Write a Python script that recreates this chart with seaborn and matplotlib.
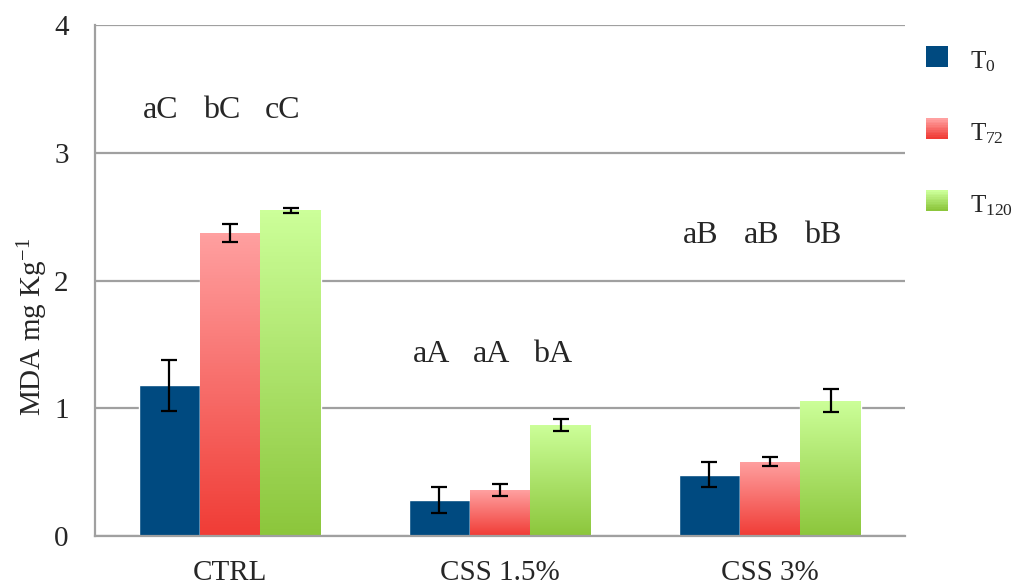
import numpy as np
import pandas as pd
import matplotlib
matplotlib.use("Agg")
import matplotlib.pyplot as plt
from matplotlib.patches import Patch, Rectangle
from matplotlib.legend_handler import HandlerBase
import seaborn as sns

# data
groups = ["CTRL", "CSS 1.5%", "CSS 3%"]
times = ["T0", "T72", "T120"]
t0 = [1.18, 0.28, 0.48]
t72 = [2.37, 0.36, 0.58]
t120 = [2.55, 0.87, 1.06]
t0_err = [0.20, 0.10, 0.10]
t72_err = [0.07, 0.045, 0.035]
t120_err = [0.02, 0.045, 0.09]
letters = [["aC", "bC", "cC"], ["aA", "aA", "bA"], ["aB", "aB", "bB"]]
letter_y = [3.33, 1.42, 2.35]

df = pd.DataFrame({
    "group": groups * 3,
    "time": [t for t in times for _ in groups],
    "mda": t0 + t72 + t120,
})
errs = [t0_err, t72_err, t120_err]

base_cols = {"T0": "#004a80", "T72": "#f7706b", "T120": "#b0e070"}
grads = {"T72": ("#ffa0a0", "#f03c36"), "T120": ("#ccff99", "#8cc63c")}

sns.set_style("white")
plt.rcParams["font.family"] = ["Liberation Serif", "DejaVu Serif"]
plt.rcParams["mathtext.fontset"] = "custom"
plt.rcParams["mathtext.rm"] = "Liberation Serif"
plt.rcParams["mathtext.it"] = "Liberation Serif"

fs = 21

fig = plt.figure(figsize=(10.18, 5.88), dpi=100)
ax = fig.add_axes([0.0933, 0.0884, 0.7957, 0.8691])

sns.barplot(data=df, x="group", y="mda", hue="time", order=groups,
            hue_order=times, palette=base_cols, width=0.675, errorbar=None,
            saturation=1, legend=False, ax=ax, zorder=2)


def vgrad(c_top, c_bot, n=100):
    a = np.array(matplotlib.colors.to_rgb(c_top))
    b = np.array(matplotlib.colors.to_rgb(c_bot))
    t = np.linspace(0, 1, n)[:, None]
    return (a * (1 - t) + b * t)[:, None, :]


for t, cont, err in zip(times, ax.containers, errs):
    xs = [p.get_x() + p.get_width() / 2 for p in cont.patches]
    hs = [p.get_height() for p in cont.patches]
    if t in grads:
        for p in cont.patches:
            x0, w, h = p.get_x(), p.get_width(), p.get_height()
            im = ax.imshow(vgrad(*grads[t]), extent=[x0, x0 + w, 0, h],
                           origin="upper", aspect="auto", zorder=2.5)
            im.set_clip_path(p)
    ax.errorbar(xs, hs, yerr=err, fmt="none", ecolor="black", elinewidth=1.6,
                capsize=6, capthick=1.6, zorder=4)

# significance letters above each group
for gi, labs in enumerate(letters):
    for ti, lab in enumerate(labs):
        p = ax.containers[ti].patches[gi]
        ax.text(p.get_x() + p.get_width() / 2 - 0.03, letter_y[gi], lab,
                ha="center", va="center", fontsize=fs + 2)

gc = "#a0a0a0"
ax.set_xlim(-0.5, 2.5)
ax.set_ylim(0, 4)
ax.set_yticks([0, 1, 2, 3, 4])
ax.yaxis.grid(True, color=gc, lw=1.6)
ax.set_axisbelow(True)
ax.set_xticks([-0.5, 0.5, 1.5, 2.5])
ax.set_xticklabels([])
ax.set_xticks([0, 1, 2], minor=True)
ax.set_xticklabels(groups, minor=True, fontsize=fs)
ax.tick_params(axis="x", which="minor", length=0, pad=17)
ax.tick_params(axis="both", which="major", direction="out", length=7,
               width=1.6, color=gc, labelsize=fs)
ax.tick_params(axis="y", pad=12)
ax.set_xlabel("")
ax.set_ylabel("MDA mg Kg$^{-1}$", fontsize=fs)
ax.yaxis.set_label_coords(-0.056, 0.41)
for s in ["top", "right"]:
    ax.spines[s].set_visible(False)
for s in ["left", "bottom"]:
    ax.spines[s].set_color(gc)
    ax.spines[s].set_linewidth(1.6)


class GradHandler(HandlerBase):
    def __init__(self, cols):
        super().__init__()
        self.cols = cols

    def create_artists(self, legend, orig, x0, y0, w, h, fontsize, trans):
        arts = []
        n = 12
        for i in range(n):
            c = self.cols[0] if len(self.cols) == 1 else \
                vgrad(self.cols[0], self.cols[1], n)[i, 0]
            arts.append(Rectangle((x0, y0 + h - (i + 1) * h / n), w, h / n + 0.3,
                                  facecolor=c, edgecolor="none", transform=trans))
        return arts


handles = [Patch(facecolor=base_cols[t]) for t in times]
hmap = {handles[0]: GradHandler([base_cols["T0"]]),
        handles[1]: GradHandler(grads["T72"]),
        handles[2]: GradHandler(grads["T120"])}
fig.legend(handles, ["T$_{0}$", "T$_{72}$", "T$_{120}$"], handler_map=hmap,
           loc="upper left", bbox_to_anchor=(0.888, 0.955), frameon=False,
           fontsize=18, handlelength=0.85, handleheight=0.85, labelspacing=1.9,
           handletextpad=0.9)

fig.savefig("out.png", dpi=100)
